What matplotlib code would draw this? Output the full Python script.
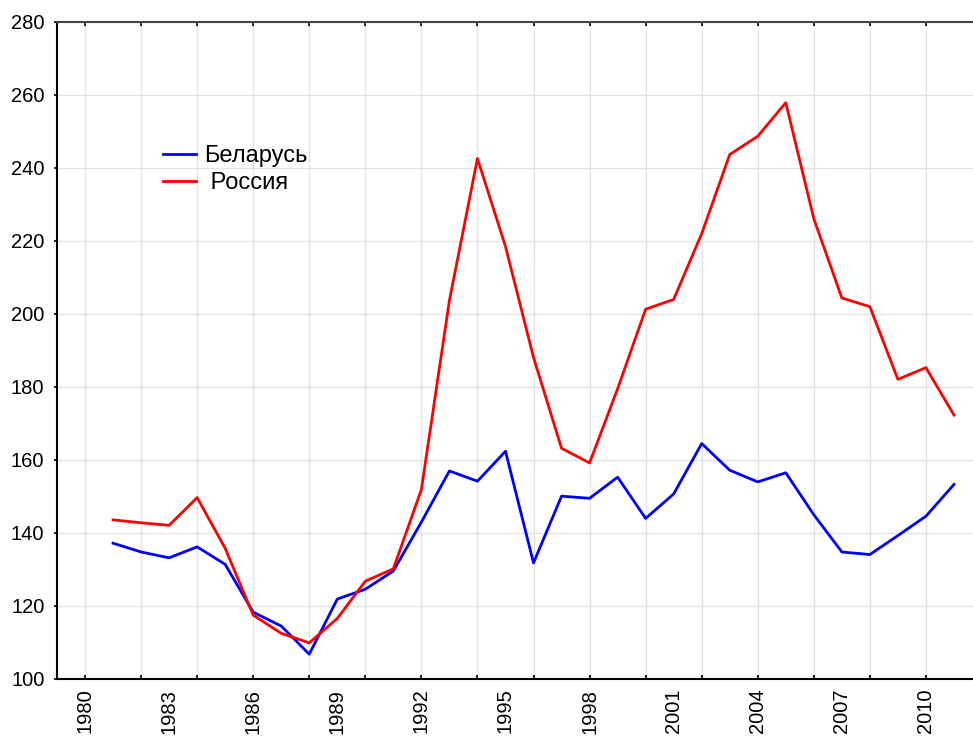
import matplotlib
matplotlib.use("Agg")
import matplotlib.pyplot as plt
import numpy as np

plt.rcParams['font.family'] = ['Liberation Sans', 'DejaVu Sans']

years = list(range(1981, 2012))
belarus = [137.2, 134.8, 133.2, 136.2, 131.4, 118.3, 114.5, 106.8, 121.9, 124.6,
           129.6, 143.0, 157.0, 154.2, 162.4, 131.8, 150.1, 149.5, 155.3, 144.0,
           150.7, 164.5, 157.2, 154.0, 156.5, 145.0, 134.8, 134.1, 139.3, 144.6,
           153.3]
russia = [143.6, 142.8, 142.1, 149.7, 135.8, 117.5, 112.5, 109.9, 116.6, 126.8,
          130.2, 151.9, 203.7, 242.6, 218.5, 188.1, 163.2, 159.2, 179.5, 201.3,
          204.0, 222.0, 243.7, 248.7, 257.9, 226.1, 204.4, 202.0, 182.1, 185.3,
          172.3]
label_years = list(range(1980, 2011, 3))
grid_years = list(range(1980, 2012, 2))
y_ticks = list(range(100, 281, 20))

W, H = 973, 738
fig = plt.figure(figsize=(W / 100, H / 100), dpi=100)
ax = fig.add_axes([57 / W, 1 - 679 / H, (982 - 57) / W, (679 - 22) / H])

ax.plot(years, belarus, color='#0000ff', lw=2.0, label='Беларусь')
ax.plot(years, russia, color='#ff0000', lw=2.0, label=' Россия')

ax.set_xlim(1979, 2012)
ax.set_ylim(100, 280)

# labels every 3 years (major, no tick mark), tick marks + grid every 2 years (minor)
ax.xaxis.remove_overlapping_locs = False
ax.set_xticks(label_years)
ax.set_xticklabels([str(y) for y in label_years], rotation=90, fontsize=14.5)
ax.tick_params(axis='x', which='major', length=0, pad=7)
ax.set_xticks(grid_years, minor=True)
ax.tick_params(axis='x', which='minor', direction='in', length=3, width=1.2,
               top=True, bottom=True)
ax.grid(True, axis='x', which='minor', color='#e2e2e2', lw=0.9)

ax.set_yticks(y_ticks)
ax.set_yticklabels([str(v) for v in y_ticks], fontsize=14.5)
ax.tick_params(axis='y', which='major', direction='out', length=2, width=1.2, pad=7)
ax.grid(True, axis='y', which='major', color='#e2e2e2', lw=0.9)
ax.set_axisbelow(True)

for side in ['left', 'bottom']:
    ax.spines[side].set_linewidth(1.5)
    ax.spines[side].set_color('black')
ax.spines['top'].set_linewidth(1.5)
ax.spines['top'].set_color('#444444')
ax.spines['right'].set_visible(False)

ax.legend(loc='upper left', bbox_to_anchor=(163 / W, 1 - 145 / H),
          bbox_transform=fig.transFigure, frameon=False, fontsize=17,
          handlelength=1.4, handletextpad=0.35, labelspacing=0.22,
          borderpad=0, borderaxespad=0)

fig.savefig('out.png', dpi=100)
